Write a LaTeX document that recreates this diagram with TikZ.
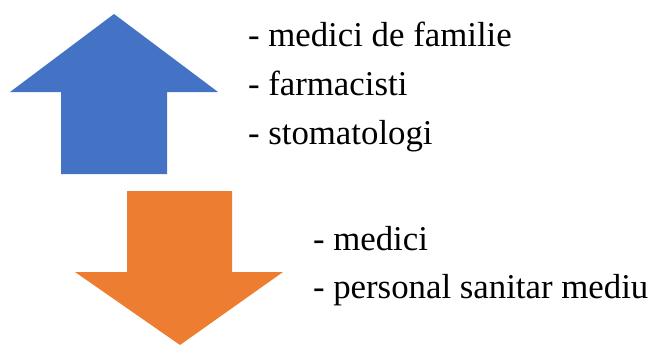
\documentclass[tikz,border=0pt]{standalone}
\usepackage{fontspec}
\setmainfont{Liberation Serif}
\usepackage{xcolor}
\definecolor{upblue}{HTML}{4472C4}
\definecolor{downorange}{HTML}{ED7D31}

\begin{document}
\begin{tikzpicture}[x=1pt, y=-1pt]
\tikzstyle{tStyle}=[anchor=base west, inner sep=0pt, outer sep=0pt,
font=\fontsize{34.8}{40}\selectfont]
\useasboundingbox (0,0) rectangle (652,345);

% up arrow
\fill[upblue] (114,14) -- (218,92) -- (167,92) -- (167,174) -- (61,174)
	-- (61,92) -- (10,92) -- cycle;
% down arrow
\fill[downorange] (127,191) -- (232,191) -- (232,272) -- (283,272)
	-- (180,345) -- (75,272) -- (127,272) -- cycle;

\draw (248,47) node[tStyle] (fam) {- medici de familie};
\draw (248,95) node[tStyle] (farm) {- farmacisti};
\draw (248,144) node[tStyle] (stom) {- stomatologi};

\draw (313,250) node[tStyle] (med) {- medici};
\draw (313,298) node[tStyle] (pers) {- personal sanitar mediu};
\end{tikzpicture}
\end{document}
